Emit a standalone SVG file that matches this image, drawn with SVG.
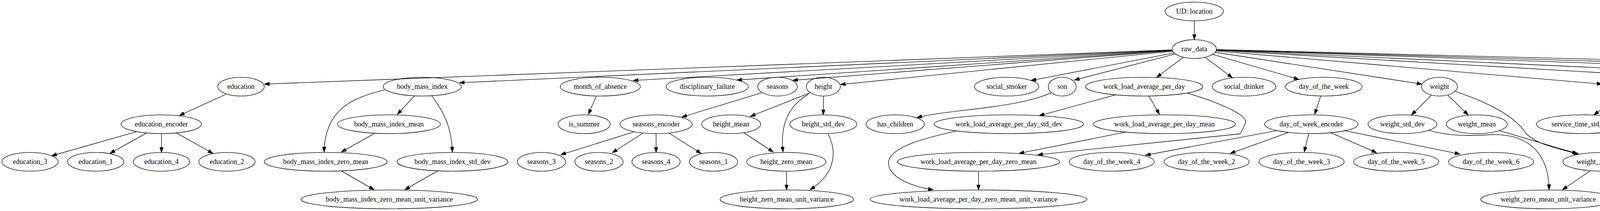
<svg xmlns="http://www.w3.org/2000/svg" width="7133" height="539" viewBox="0 0 7133 539">
<defs>
<style>
.node ellipse{fill:none;stroke:#000;stroke-width:1.33}
.node text{font-family:"Liberation Serif","Times New Roman",serif;font-size:18px;fill:#000;text-anchor:middle}
.e{fill:none;stroke:#000;stroke-width:1.33;marker-end:url(#arr)}
</style>
<marker id="arr" markerUnits="userSpaceOnUse" viewBox="0 0 13.3 9.4" markerWidth="13.3" markerHeight="9.4" refX="13.3" refY="4.7" orient="auto">
<path d="M0,0 L13.3,4.7 L0,9.4 Z" fill="#000" stroke="#000" stroke-width="1"/>
</marker>
</defs>
<rect width="7133" height="539" fill="#fff"/>
<g id="edges">
<path class="e" d="M3057.4,53.3 L3057.4,101.3"/>
<path class="e" d="M3001.0,127.4 L676.5,214.8"/>
<path class="e" d="M3001.1,127.9 L1176,211.4"/>
<path class="e" d="M3001.3,128.4 L1621,205.6"/>
<path class="e" d="M3001.5,129.1 L1886.1,204.5"/>
<path class="e" d="M3001.7,129.6 L2028.9,205.2"/>
<path class="e" d="M3002.3,130.8 L2151.3,215.9"/>
<path class="e" d="M3005.8,135.2 L2639.2,205.6"/>
<path class="e" d="M3009.0,137.8 L2750.2,204.5"/>
<path class="e" d="M3029.5,146.2 L2960.7,197.7"/>
<path class="e" d="M3085.2,146.2 L3155,198.7"/>
<path class="e" d="M3104.2,138.8 L3325.3,202.8"/>
<path class="e" d="M3110.6,133.5 L3640.2,214.9"/>
<path class="e" d="M3112.9,130.1 L4101.3,214.9"/>
<path class="e" d="M3113.5,128.6 L4630.5,216.6"/>
<path class="e" d="M3113.7,127.9 L5054.5,217.3"/>
<path class="e" d="M3113.8,127.3 L5497.6,211.4"/>
<path class="e" d="M3113.9,127.0 L6078.5,215.9"/>
<path class="e" d="M3113.9,126.7 L6407.6,210.4"/>
<path class="e" d="M578,241 L459.2,295"/>
<path class="e" d="M348.3,336.9 L132,398"/>
<path class="e" d="M374.3,340.3 L281.3,391.9"/>
<path class="e" d="M413.4,341.3 L413.4,389.3"/>
<path class="e" d="M451.6,339.6 L545.4,391.9"/>
<path class="e" d="M1060.4,245.8 L1017.1,292.2"/>
<path class="e" d="M984.6,229.6 C900,250 832,280 829.6,388.4"/>
<path class="e" d="M1105.2,244.8 C1140,290 1156,330 1158,388.4"/>
<path class="e" d="M957.8,341.4 L873.6,388.4"/>
<path class="e" d="M873.6,436.6 L957.8,484.7"/>
<path class="e" d="M1120.5,436.6 L1036.3,484.7"/>
<path class="e" d="M1526.4,245.8 L1506.2,292.2"/>
<path class="e" d="M1949.3,237.2 L1745.3,299.1"/>
<path class="e" d="M1622.9,336.9 L1435.4,395.3"/>
<path class="e" d="M1645.8,340.3 L1567.4,390.2"/>
<path class="e" d="M1679.6,341.3 L1679.6,389.3"/>
<path class="e" d="M1712.8,340.3 L1795.1,391.9"/>
<path class="e" d="M2073.6,237.2 L1920.6,297.4"/>
<path class="e" d="M2069.8,240.6 C2010,275 1998,330 2004.7,388.4"/>
<path class="e" d="M2107.7,245.3 L2107.7,293.3"/>
<path class="e" d="M1903.3,338.6 L1979.9,388.4"/>
<path class="e" d="M2013.6,437.3 L2013.6,485.3"/>
<path class="e" d="M2119.6,342 C2140,380 2145,440 2073.6,484.7"/>
<path class="e" d="M2690.9,237.2 C2600,278 2420,280 2347.3,300.8"/>
<path class="e" d="M2855.4,242.4 L2660.2,295.6"/>
<path class="e" d="M2941.5,245.8 L2968.3,292.2"/>
<path class="e" d="M3038.3,237.2 C3120,262 3200,295 3187.5,315 C3182,330 3178,338 3174.1,342 L2656.4,395.3"/>
<path class="e" d="M2445.9,335.2 C2380,350 2270,375 2274.6,419.4 C2278,455 2340,478 2389.4,484.7"/>
<path class="e" d="M2884.1,336.9 L2608.6,391.9"/>
<path class="e" d="M2505,437.3 L2505,485.3"/>
<path class="e" d="M3380.8,245.8 L3365.5,292.2"/>
<path class="e" d="M3269.8,333.4 L2932,396.5"/>
<path class="e" d="M3298.5,338.6 L3149.3,391.9"/>
<path class="e" d="M3350.2,342 L3338.7,388.4"/>
<path class="e" d="M3405.7,338.6 L3524.3,390.2"/>
<path class="e" d="M3440.1,333.4 L3737.8,393.6"/>
<path class="e" d="M3664.3,243 L3613.4,293.9"/>
<path class="e" d="M3706.4,243 L3758.8,293.9"/>
<path class="e" d="M3726.3,233.8 C3820,265 3880,300 3906,340 C3930,368 3990,380 4042,394"/>
<path class="e" d="M3837.3,333.4 L4038,392.5"/>
<path class="e" d="M3657.4,332.8 C3720,350 3760,346 3820,344 C3900,342 3965,380 3965.5,484.7"/>
<path class="e" d="M4070.7,436.6 L3999.9,484.7"/>
<path class="e" d="M4145.4,244.1 L4080.3,293.9"/>
<path class="e" d="M4201.9,243.4 L4268.9,293.9"/>
<path class="e" d="M4240.2,233.8 C4340,258 4420,280 4430,320 C4434,345 4428,370 4423.9,388.4"/>
<path class="e" d="M4326.3,341.4 L4387.5,388.4"/>
<path class="e" d="M4112.8,338.6 C4180,365 4230,385 4255,415 C4280,450 4310,470 4337.8,484.7"/>
<path class="e" d="M4404.7,437.3 L4382.9,484.7"/>
<path class="e" d="M4665,244.1 L4607.6,293.9"/>
<path class="e" d="M4713.6,244.1 L4772.1,293.9"/>
<path class="e" d="M4748,225.2 C4850,240 4910,280 4907,316 C4905,350 4880,370 4849.8,390.2"/>
<path class="e" d="M4797,341.3 L4797,389.3"/>
<path class="e" d="M4795.1,437.3 L4791.3,484.7"/>
<path class="e" d="M4594.2,342 C4625,400 4665,445 4741.5,484.7"/>
<path class="e" d="M5077.5,245.1 L5050.7,292.2"/>
<path class="e" d="M5101.2,245.1 C5115,280 5140,340 5152.1,388.4"/>
<path class="e" d="M5117.6,238.9 L5213.3,295.6"/>
<path class="e" d="M5226,341.4 L5184.6,388.4"/>
<path class="e" d="M5035.4,342 C5038,400 5050,440 5113.8,484.7"/>
<path class="e" d="M5160.7,437.3 L5160.7,485.3"/>
<path class="e" d="M5637.3,245.8 L5579.9,293.2"/>
<path class="e" d="M5740.6,243.4 L5928.1,294.6"/>
<path class="e" d="M5824.8,232 C6000,248 6220,270 6235,310 C6250,350 6200,375 6114.8,391.2"/>
<path class="e" d="M6003.8,341.3 L6003.8,389.3"/>
<path class="e" d="M5587.5,342 L5809.5,484.7"/>
<path class="e" d="M5965.6,437.3 L5884.1,484.7"/>
<path class="e" d="M6143.5,235.5 L6302.3,300.8"/>
<path class="e" d="M6546.5,245.8 L6595.1,292.9"/>
<path class="e" d="M6491,245.1 C6445,295 6425,355 6522.4,391.9"/>
<path class="e" d="M6603.8,239.6 L6873.6,296.3"/>
<path class="e" d="M6618,341.3 L6618,389.3"/>
<path class="e" d="M6652.4,437.3 L6724.4,484.7"/>
<path class="e" d="M6936.7,342 C6900,385 6830,440 6783.7,484.7"/>
</g>
<g id="ud_location" class="node"><ellipse cx="3057.4" cy="29.3" rx="74.6" ry="24"/><text x="3057.4" y="34.8">UD: location</text></g>
<g id="raw_data" class="node"><ellipse cx="3057.4" cy="125.3" rx="56.6" ry="24"/><text x="3057.4" y="130.8">raw_data</text></g>
<g id="education" class="node"><ellipse cx="617" cy="221.3" rx="59.5" ry="24"/><text x="617" y="226.8">education</text></g>
<g id="body_mass_index" class="node"><ellipse cx="1081" cy="221.3" rx="100" ry="24"/><text x="1081" y="226.8">body_mass_index</text></g>
<g id="month_of_absence" class="node"><ellipse cx="1536.8" cy="221.3" rx="102.6" ry="24"/><text x="1536.8" y="226.8">month_of_absence</text></g>
<g id="disciplinary_failure" class="node"><ellipse cx="1810.6" cy="221.3" rx="105.4" ry="24"/><text x="1810.6" y="226.8">disciplinary_failure</text></g>
<g id="seasons" class="node"><ellipse cx="1990.4" cy="221.3" rx="50.7" ry="24"/><text x="1990.4" y="226.8">seasons</text></g>
<g id="height" class="node"><ellipse cx="2107.7" cy="221.3" rx="43.6" ry="24"/><text x="2107.7" y="226.8">height</text></g>
<g id="social_smoker" class="node"><ellipse cx="2577" cy="221.3" rx="82.5" ry="24"/><text x="2577" y="226.8">social_smoker</text></g>
<g id="son" class="node"><ellipse cx="2719.4" cy="221.3" rx="35.8" ry="24"/><text x="2719.4" y="226.8">son</text></g>
<g id="work_load_average_per_day" class="node"><ellipse cx="2929" cy="221.3" rx="150" ry="24"/><text x="2929" y="226.8">work_load_average_per_day</text></g>
<g id="social_drinker" class="node"><ellipse cx="3184.8" cy="221.3" rx="81.5" ry="24"/><text x="3184.8" y="226.8">social_drinker</text></g>
<g id="day_of_the_week" class="node"><ellipse cx="3388.9" cy="221.3" rx="98" ry="24"/><text x="3388.9" y="226.8">day_of_the_week</text></g>
<g id="weight" class="node"><ellipse cx="3685" cy="221.3" rx="46" ry="24"/><text x="3685" y="226.8">weight</text></g>
<g id="service_time" class="node"><ellipse cx="4174.6" cy="221.3" rx="74.4" ry="24"/><text x="4174.6" y="226.8">service_time</text></g>
<g id="hit_target" class="node"><ellipse cx="4688.9" cy="221.3" rx="59" ry="24"/><text x="4688.9" y="226.8">hit_target</text></g>
<g id="age" class="node"><ellipse cx="5090.5" cy="221.3" rx="36" ry="24"/><text x="5090.5" y="226.8">age</text></g>
<g id="distance_from_residence_to_work" class="node"><ellipse cx="5665" cy="221.3" rx="177" ry="24"/><text x="5665" y="226.8">distance_from_residence_to_work</text></g>
<g id="pet" class="node"><ellipse cx="6113.3" cy="221.3" rx="36" ry="24"/><text x="6113.3" y="226.8">pet</text></g>
<g id="transportation_expense" class="node"><ellipse cx="6522.2" cy="221.3" rx="123" ry="24"/><text x="6522.2" y="226.8">transportation_expense</text></g>
<g id="education_encoder" class="node"><ellipse cx="413" cy="317.3" rx="103" ry="24"/><text x="413" y="322.8">education_encoder</text></g>
<g id="body_mass_index_mean" class="node"><ellipse cx="995.7" cy="317.3" rx="131.7" ry="24"/><text x="995.7" y="322.8">body_mass_index_mean</text></g>
<g id="is_summer" class="node"><ellipse cx="1495.5" cy="317.3" rx="66.6" ry="24"/><text x="1495.5" y="322.8">is_summer</text></g>
<g id="seasons_encoder" class="node"><ellipse cx="1679.7" cy="317.3" rx="92.4" ry="24"/><text x="1679.7" y="322.8">seasons_encoder</text></g>
<g id="height_mean" class="node"><ellipse cx="1871.8" cy="317.3" rx="75.5" ry="24"/><text x="1871.8" y="322.8">height_mean</text></g>
<g id="height_std_dev" class="node"><ellipse cx="2107.7" cy="317.3" rx="85.7" ry="24"/><text x="2107.7" y="322.8">height_std_dev</text></g>
<g id="has_children" class="node"><ellipse cx="2291.8" cy="317.3" rx="74.6" ry="24"/><text x="2291.8" y="322.8">has_children</text></g>
<g id="work_load_average_per_day_std_dev" class="node"><ellipse cx="2582.7" cy="317.3" rx="191.6" ry="24"/><text x="2582.7" y="322.8">work_load_average_per_day_std_dev</text></g>
<g id="work_load_average_per_day_mean" class="node"><ellipse cx="2981.3" cy="317.3" rx="182" ry="24"/><text x="2981.3" y="322.8">work_load_average_per_day_mean</text></g>
<g id="day_of_week_encoder" class="node"><ellipse cx="3357" cy="317.3" rx="119.8" ry="24"/><text x="3357" y="322.8">day_of_week_encoder</text></g>
<g id="weight_std_dev" class="node"><ellipse cx="3590.3" cy="317.3" rx="88.2" ry="24"/><text x="3590.3" y="322.8">weight_std_dev</text></g>
<g id="weight_mean" class="node"><ellipse cx="3780.7" cy="317.3" rx="78" ry="24"/><text x="3780.7" y="322.8">weight_mean</text></g>
<g id="service_time_std_dev" class="node"><ellipse cx="4050.3" cy="317.3" rx="117.3" ry="24"/><text x="4050.3" y="322.8">service_time_std_dev</text></g>
<g id="service_time_mean" class="node"><ellipse cx="4298.4" cy="317.3" rx="106" ry="24"/><text x="4298.4" y="322.8">service_time_mean</text></g>
<g id="hit_target_std_dev" class="node"><ellipse cx="4580.4" cy="317.3" rx="101" ry="24"/><text x="4580.4" y="322.8">hit_target_std_dev</text></g>
<g id="hit_target_mean" class="node"><ellipse cx="4797" cy="317.3" rx="91" ry="24"/><text x="4797" y="322.8">hit_target_mean</text></g>
<g id="age_std_dev" class="node"><ellipse cx="5035.5" cy="317.3" rx="73" ry="24"/><text x="5035.5" y="322.8">age_std_dev</text></g>
<g id="age_mean" class="node"><ellipse cx="5246.6" cy="317.3" rx="62.4" ry="24"/><text x="5246.6" y="322.8">age_mean</text></g>
<g id="distance_from_residence_to_work_std_dev" class="node"><ellipse cx="5551.6" cy="317.3" rx="219" ry="24"/><text x="5551.6" y="322.8">distance_from_residence_to_work_std_dev</text></g>
<g id="distance_from_residence_to_work_mean" class="node"><ellipse cx="6003.7" cy="317.3" rx="208.7" ry="24"/><text x="6003.7" y="322.8">distance_from_residence_to_work_mean</text></g>
<g id="has_pet" class="node"><ellipse cx="6338.3" cy="317.3" rx="50.5" ry="24"/><text x="6338.3" y="322.8">has_pet</text></g>
<g id="transportation_expense_mean" class="node"><ellipse cx="6618" cy="317.3" rx="155" ry="24"/><text x="6618" y="322.8">transportation_expense_mean</text></g>
<g id="transportation_expense_std_dev" class="node"><ellipse cx="6962.2" cy="317.3" rx="166" ry="24"/><text x="6962.2" y="322.8">transportation_expense_std_dev</text></g>
<g id="education_3" class="node"><ellipse cx="77" cy="413.3" rx="72" ry="24"/><text x="77" y="418.8">education_3</text></g>
<g id="education_1" class="node"><ellipse cx="245" cy="413.3" rx="72" ry="24"/><text x="245" y="418.8">education_1</text></g>
<g id="education_4" class="node"><ellipse cx="413.4" cy="413.3" rx="72" ry="24"/><text x="413.4" y="418.8">education_4</text></g>
<g id="education_2" class="node"><ellipse cx="581" cy="413.3" rx="72" ry="24"/><text x="581" y="418.8">education_2</text></g>
<g id="body_mass_index_zero_mean" class="node"><ellipse cx="833.8" cy="413.3" rx="157.3" ry="24"/><text x="833.8" y="418.8">body_mass_index_zero_mean</text></g>
<g id="body_mass_index_std_dev" class="node"><ellipse cx="1158.4" cy="413.3" rx="142" ry="24"/><text x="1158.4" y="418.8">body_mass_index_std_dev</text></g>
<g id="seasons_3" class="node"><ellipse cx="1386.2" cy="413.3" rx="61.8" ry="24"/><text x="1386.2" y="418.8">seasons_3</text></g>
<g id="seasons_2" class="node"><ellipse cx="1533.3" cy="413.3" rx="61.7" ry="24"/><text x="1533.3" y="418.8">seasons_2</text></g>
<g id="seasons_4" class="node"><ellipse cx="1679.5" cy="413.3" rx="61.7" ry="24"/><text x="1679.5" y="418.8">seasons_4</text></g>
<g id="seasons_1" class="node"><ellipse cx="1826.7" cy="413.3" rx="61.7" ry="24"/><text x="1826.7" y="418.8">seasons_1</text></g>
<g id="height_zero_mean" class="node"><ellipse cx="2013" cy="413.3" rx="101.4" ry="24"/><text x="2013" y="418.8">height_zero_mean</text></g>
<g id="work_load_average_per_day_zero_mean" class="node"><ellipse cx="2505" cy="413.3" rx="207.6" ry="24"/><text x="2505" y="418.8">work_load_average_per_day_zero_mean</text></g>
<g id="day_of_the_week_4" class="node"><ellipse cx="2846.2" cy="413.3" rx="108.7" ry="24"/><text x="2846.2" y="418.8">day_of_the_week_4</text></g>
<g id="day_of_the_week_2" class="node"><ellipse cx="3088.8" cy="413.3" rx="109" ry="24"/><text x="3088.8" y="418.8">day_of_the_week_2</text></g>
<g id="day_of_the_week_3" class="node"><ellipse cx="3332" cy="413.3" rx="109" ry="24"/><text x="3332" y="418.8">day_of_the_week_3</text></g>
<g id="day_of_the_week_5" class="node"><ellipse cx="3574.2" cy="413.3" rx="109" ry="24"/><text x="3574.2" y="418.8">day_of_the_week_5</text></g>
<g id="day_of_the_week_6" class="node"><ellipse cx="3817" cy="413.3" rx="109" ry="24"/><text x="3817" y="418.8">day_of_the_week_6</text></g>
<g id="weight_zero_mean" class="node"><ellipse cx="4104.7" cy="413.3" rx="103.7" ry="24"/><text x="4104.7" y="418.8">weight_zero_mean</text></g>
<g id="service_time_zero_mean" class="node"><ellipse cx="4415.8" cy="413.3" rx="132.4" ry="24"/><text x="4415.8" y="418.8">service_time_zero_mean</text></g>
<g id="hit_target_zero_mean" class="node"><ellipse cx="4796.8" cy="413.3" rx="117.2" ry="24"/><text x="4796.8" y="418.8">hit_target_zero_mean</text></g>
<g id="age_zero_mean" class="node"><ellipse cx="5160.7" cy="413.3" rx="88.2" ry="24"/><text x="5160.7" y="418.8">age_zero_mean</text></g>
<g id="distance_from_residence_to_work_zero_mean" class="node"><ellipse cx="6003.9" cy="413.3" rx="235.4" ry="24"/><text x="6003.9" y="418.8">distance_from_residence_to_work_zero_mean</text></g>
<g id="transportation_expense_zero_mean" class="node"><ellipse cx="6618.2" cy="413.3" rx="180.8" ry="24"/><text x="6618.2" y="418.8">transportation_expense_zero_mean</text></g>
<g id="body_mass_index_zero_mean_unit_variance" class="node"><ellipse cx="996.5" cy="509.3" rx="226" ry="24"/><text x="996.5" y="514.8">body_mass_index_zero_mean_unit_variance</text></g>
<g id="height_zero_mean_unit_variance" class="node"><ellipse cx="2014.3" cy="509.3" rx="171" ry="24"/><text x="2014.3" y="514.8">height_zero_mean_unit_variance</text></g>
<g id="work_load_average_per_day_zero_mean_unit_variance" class="node"><ellipse cx="2505" cy="509.3" rx="277.6" ry="24"/><text x="2505" y="514.8">work_load_average_per_day_zero_mean_unit_variance</text></g>
<g id="weight_zero_mean_unit_variance" class="node"><ellipse cx="3963.7" cy="509.3" rx="173" ry="24"/><text x="3963.7" y="514.8">weight_zero_mean_unit_variance</text></g>
<g id="service_time_zero_mean_unit_variance" class="node"><ellipse cx="4371.6" cy="509.3" rx="201.4" ry="24"/><text x="4371.6" y="514.8">service_time_zero_mean_unit_variance</text></g>
<g id="hit_target_zero_mean_unit_variance" class="node"><ellipse cx="4789.4" cy="509.3" rx="186.7" ry="24"/><text x="4789.4" y="514.8">hit_target_zero_mean_unit_variance</text></g>
<g id="age_zero_mean_unit_variance" class="node"><ellipse cx="5159.7" cy="509.3" rx="157.7" ry="24"/><text x="5159.7" y="514.8">age_zero_mean_unit_variance</text></g>
<g id="distance_from_residence_to_work_zero_mean_unit_variance" class="node"><ellipse cx="5844.9" cy="509.3" rx="304.4" ry="24"/><text x="5844.9" y="514.8">distance_from_residence_to_work_zero_mean_unit_variance</text></g>
<g id="transportation_expense_zero_mean_unit_variance" class="node"><ellipse cx="6758.5" cy="509.3" rx="250" ry="24"/><text x="6758.5" y="514.8">transportation_expense_zero_mean_unit_variance</text></g>
</svg>
